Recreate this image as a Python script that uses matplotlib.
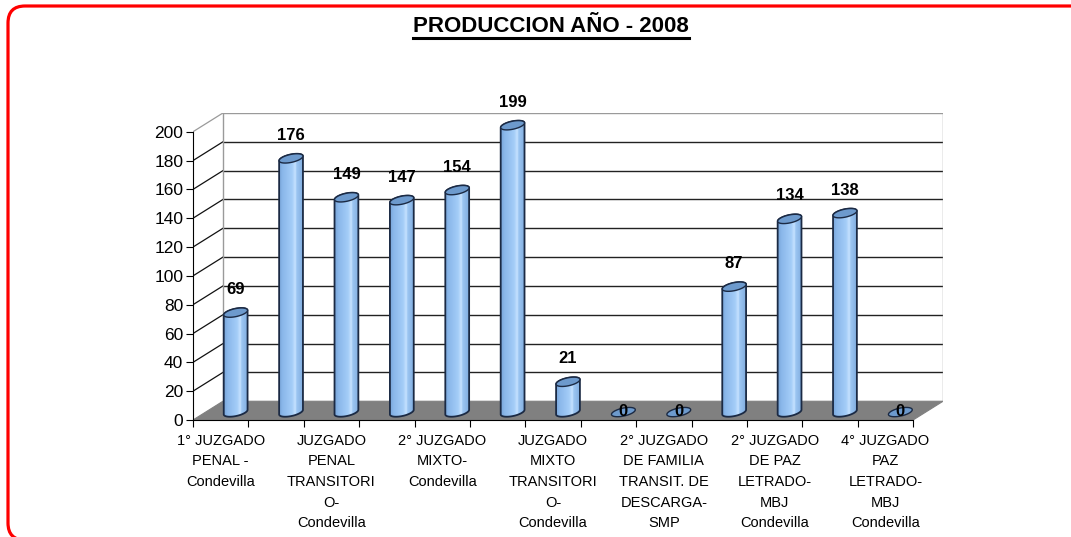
import numpy as np
import matplotlib
matplotlib.use("Agg")
import matplotlib.pyplot as plt
from matplotlib.patches import Polygon, FancyBboxPatch
from matplotlib.colors import LinearSegmentedColormap
from matplotlib.lines import Line2D

# data
values = [69, 176, 149, 147, 154, 199, 21, 0, 0, 87, 134, 138, 0]
labels = ["1° JUZGADO\nPENAL -\nCondevilla", "",
          "JUZGADO\nPENAL\nTRANSITORI\nO-\nCondevilla", "",
          "2° JUZGADO\nMIXTO-\nCondevilla", "",
          "JUZGADO\nMIXTO\nTRANSITORI\nO-\nCondevilla", "",
          "2° JUZGADO\nDE FAMILIA\nTRANSIT. DE\nDESCARGA-\nSMP", "",
          "2° JUZGADO\nDE PAZ\nLETRADO-\nMBJ\nCondevilla", "",
          "4° JUZGADO\nPAZ\nLETRADO-\nMBJ\nCondevilla"]
yticks = [0, 20, 40, 60, 80, 100, 120, 140, 160, 180, 200]
title = "PRODUCCION AÑO - 2008"

plt.rcParams['font.family'] = ['Liberation Sans', 'DejaVu Sans']

W, H = 1071, 537
fig = plt.figure(figsize=(W / 100, H / 100), dpi=100)

# background axes in pixel units (y up), for the red rounded frame
bg = fig.add_axes([0, 0, 1, 1])
bg.set_xlim(0, W)
bg.set_ylim(0, H)
bg.axis('off')
bg.add_patch(FancyBboxPatch((8, -3), 1100, H - 6 + 3, boxstyle="round,pad=0,rounding_size=17",
                            fill=False, edgecolor='#ff0000', linewidth=2.3))

n = len(values)
DX, DY = 0.54, 13.0      # depth offset of back wall
ymax = 200

ax = fig.add_axes([193 / W, (537 - 420) / H, (943 - 193) / W, (420 - 113) / H])
ax.set_xlim(0, n + DX)
ax.set_ylim(0, ymax + DY)
ax.patch.set_alpha(0)

# floor
ax.add_patch(Polygon([(0, 0), (n, 0), (n + DX, DY), (DX, DY)],
                     closed=True, facecolor='#808080', edgecolor='#808080', lw=0.8, zorder=1))
# walls / gridlines
for v in yticks[1:]:
    c = '#9a9a9a' if v == ymax else '#222222'
    ax.plot([DX, n + DX], [v + DY, v + DY], color=c, lw=1.0, zorder=1)
    ax.plot([0, DX], [v, v + DY], color=c if v == ymax else '#111111', lw=0.9, zorder=1)
ax.plot([DX, DX], [DY, ymax + DY], color='#9a9a9a', lw=1.0, zorder=1)
ax.plot([n + DX, n + DX], [DY, ymax + DY], color='#9a9a9a', lw=1.0, zorder=1)

# cylinder bars
cmap = LinearSegmentedColormap.from_list('cyl', [
    (0.0, '#78a5da'), (0.15, '#8ab7ea'), (0.55, '#a4cdf8'),
    (0.68, '#c6e2ff'), (0.74, '#9cc6f2'), (1.0, '#80acdf')])
grad = np.linspace(0, 1, 256).reshape(1, -1)
bw = 0.43
a = bw / 2
ry, k = 2.8, 1.6
base = 5.5
t_bot = np.linspace(np.pi, 2 * np.pi, 40)
t_top = np.linspace(0, np.pi, 40)
t_all = np.linspace(0, 2 * np.pi, 80)

for i, v in enumerate(values):
    cx = i + 0.5 + DX / 2
    top = base + v
    if v > 0:
        xs = np.concatenate([[cx - a], cx + a * np.cos(t_bot), [cx + a], cx + a * np.cos(t_top)])
        ys = np.concatenate([[top - k], base + ry * np.sin(t_bot) + k * np.cos(t_bot), [top + k],
                             top + ry * np.sin(t_top) + k * np.cos(t_top)])
        body = Polygon(np.column_stack([xs, ys]), closed=True, facecolor='none',
                       edgecolor='#1b2a44', lw=1.3, zorder=4)
        ax.add_patch(body)
        im = ax.imshow(grad, cmap=cmap, aspect='auto', zorder=3,
                       extent=[cx - a, cx + a, base - ry - k, top + ry + k])
        im.set_clip_path(body)
    ex = cx + a * np.cos(t_all)
    ey = top + ry * np.sin(t_all) + k * np.cos(t_all)
    ax.add_patch(Polygon(np.column_stack([ex, ey]), closed=True, facecolor='#6d9acd',
                         edgecolor='#1b2a44', lw=1.0, zorder=5))
    ly = top + 16 if v > 0 else top + 0.5
    ax.text(cx, ly, str(v), ha='center', va='center', fontsize=12,
            fontweight='bold', color='black', zorder=6)

ax.set_xlim(0, n + DX)
ax.set_ylim(0, ymax + DY)

# axes
for s in ['top', 'right']:
    ax.spines[s].set_visible(False)
ax.spines['left'].set_bounds(0, ymax)
ax.spines['bottom'].set_bounds(0, n)
ax.set_yticks(yticks)
ax.tick_params(axis='y', length=5, pad=2, labelsize=12.5)
ax.set_xticks(range(n + 1))
ax.set_xticklabels([])
ax.tick_params(axis='x', which='major', length=5)
ax.set_xticks(np.arange(n) + 0.5, minor=True)
ax.set_xticklabels(labels, minor=True, fontsize=10.5, linespacing=1.6)
ax.tick_params(axis='x', which='minor', length=0, pad=10)

tt = fig.text(551 / W, 1 - 26 / H, title, ha='center', va='center',
              fontsize=16, fontweight='bold')
fig.canvas.draw()
bb = tt.get_window_extent().transformed(fig.transFigure.inverted())
fig.add_artist(Line2D([bb.x0, bb.x1], [bb.y0 - 1.5 / H, bb.y0 - 1.5 / H],
                      transform=fig.transFigure, color='black', lw=2.2))

fig.savefig('out.png', dpi=100)
